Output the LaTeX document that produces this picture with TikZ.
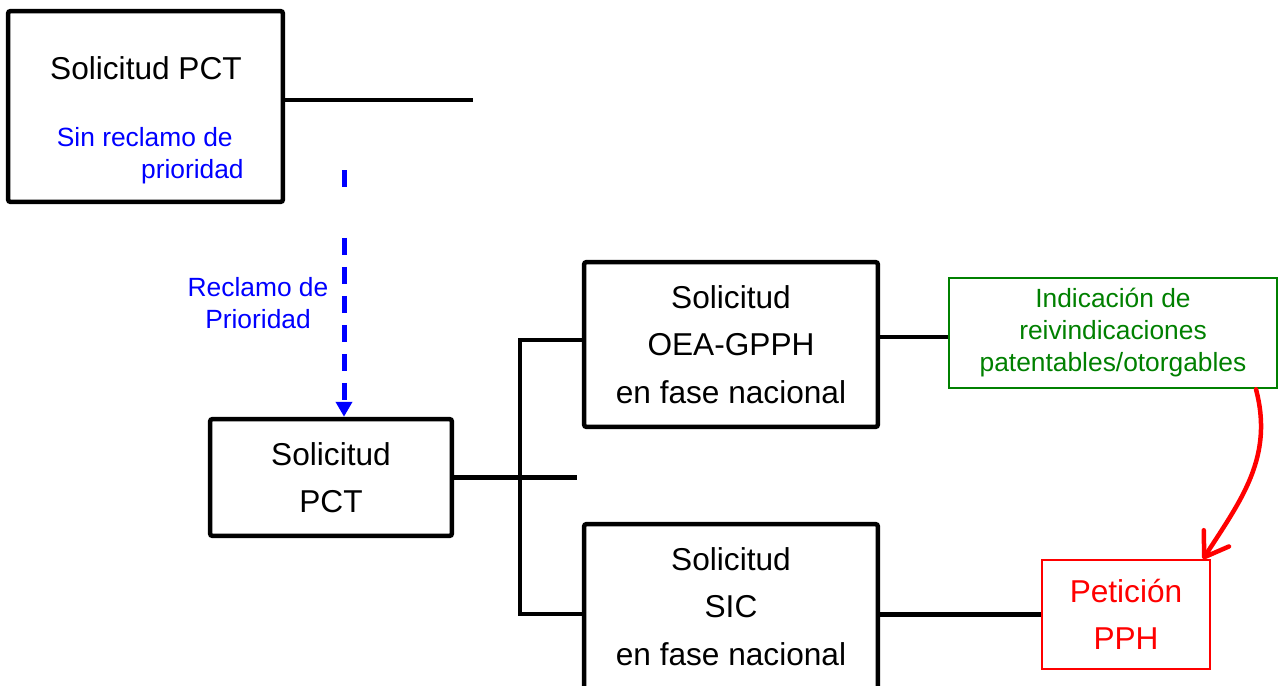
\documentclass[tikz,border=0pt]{standalone}
\usepackage{fontspec}
\setmainfont{Liberation Sans}
\usetikzlibrary{arrows.meta, positioning, calc}

\definecolor{indgreen}{RGB}{0,128,0}

\begin{document}
\begin{tikzpicture}[x=0.02cm, y=-0.02cm,
		caja/.style={draw, line width=0.09cm, rounded corners=1.5pt, align=center,
			minimum width=5.88cm, minimum height=3.3cm, font=\fontsize{18}{27}\selectfont},
		azul/.style={text=blue, inner sep=0pt, font=\fontsize{15}{18.5}\selectfont},
		linea/.style={line width=0.09cm}]
		\useasboundingbox (0,0) rectangle (1278,686);
		
		\node[caja, minimum width=5.5cm, minimum height=3.82cm] (P1) at (145.5,106.5) {};
		\node[inner sep=0pt, font=\fontsize{18}{27}\selectfont] (P1t) at (146,68) {Solicitud PCT};
		\node[azul, align=right, anchor=east] (SR) at (244,155.5) {Sin reclamo de\hspace*{0.22cm}\\prioridad};
		\node[azul, align=center] (RP) at (258,303) {Reclamo de\\Prioridad};
		
		\node[caja, minimum width=4.84cm, minimum height=2.34cm] (P2) at (331,477.5) {Solicitud\\PCT};
		\node[caja] (OEA) at (731,344.5) {Solicitud\\OEA-GPPH\\en fase nacional};
		\node[caja] (SIC) at (731,606.5) {Solicitud\\SIC\\en fase nacional};
		
		\node[draw=indgreen, text=indgreen, line width=0.05cm, align=center,
			minimum width=6.56cm, minimum height=2.2cm,
			font=\fontsize{15}{18.2}\selectfont] (IND) at (1113,333)
			{Indicación de\\reivindicaciones\\patentables/otorgables};
		\node[draw=red, text=red, line width=0.035cm, align=center,
			minimum width=3.36cm, minimum height=2.18cm,
			font=\fontsize{18}{27}\selectfont] (PET) at (1126,614.5) {Petición\\PPH};
		
		\coordinate (F1) at (473,100);
		\coordinate (F2) at (577,478);
		\coordinate (D0) at (344,170);
		\coordinate (B1) at (520,340);
		\coordinate (B2) at (520,614);
		
		\draw[linea] (F1 -| P1.east) -- (F1);
		\draw[blue, line width=0.1cm, -{Triangle[length=0.3cm, width=0.32cm]},
			dash pattern=on 0.34cm off 1.02cm on 0.34cm off 0.24cm on 0.34cm off 0.24cm
			on 0.34cm off 0.24cm on 0.34cm off 0.24cm on 0.34cm off 0.24cm on 0.34cm off 0.24cm]
			(D0) -- (D0 |- P2.north);
		
		\draw[linea] (P2.east) -- (F2 |- P2.east);
		\draw[linea] (B1 -| OEA.west) -- (B1) -- (B2) -- (B2 -| SIC.west);
		\draw[linea] ([yshift=0.15cm]OEA.east) coordinate (G1) -- (G1 -| IND.west);
		\draw[linea] (PET.west -| SIC.east) -- (PET.west);
		
		\draw[red, line width=0.09cm, line cap=round,
			-{Straight Barb[length=0.45cm, width=0.6cm, round]}]
			([xshift=2.86cm]IND.south) .. controls +(18,68) and +(38,-59) .. ([xshift=1.54cm]PET.north);
	\end{tikzpicture}
\end{document}
